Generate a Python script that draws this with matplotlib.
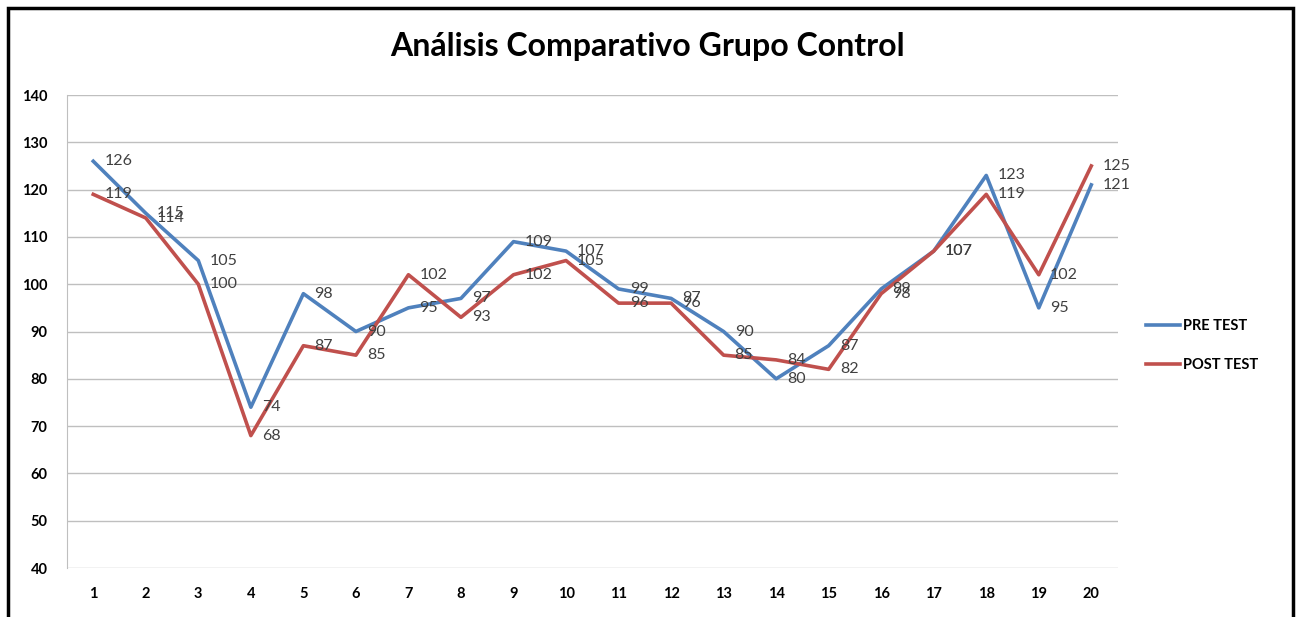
import matplotlib
matplotlib.use("Agg")
import matplotlib.pyplot as plt
from matplotlib.patches import Rectangle

plt.rcParams['font.family'] = ['Lato', 'DejaVu Sans']

categories = list(range(1, 21))
pre_test = [126, 115, 105, 74, 98, 90, 95, 97, 109, 107, 99, 97, 90, 80, 87, 99, 107, 123, 95, 121]
post_test = [119, 114, 100, 68, 87, 85, 102, 93, 102, 105, 96, 96, 85, 84, 82, 98, 107, 119, 102, 125]

blue = '#4F81BD'
red = '#C0504D'

fig = plt.figure(figsize=(13.01, 6.17), dpi=100)
ax = fig.add_axes([0.0515, 0.0794, 0.8075, 0.7666])

ax.plot(categories, pre_test, color=blue, lw=2.6, label='PRE TEST', zorder=3)
ax.plot(categories, post_test, color=red, lw=2.6, label='POST TEST', zorder=3)

# data labels to the right of each point
for x, v in zip(categories, pre_test):
    ax.annotate(str(v), (x, v), xytext=(8, 0), textcoords='offset points',
                va='center', ha='left', fontsize=11.5, color='#404040', zorder=4)
for x, v in zip(categories, post_test):
    ax.annotate(str(v), (x, v), xytext=(8, 0), textcoords='offset points',
                va='center', ha='left', fontsize=11.5, color='#404040', zorder=4)

ax.set_xlim(0.5, 20.5)
ax.set_ylim(40, 140)
ax.set_yticks(range(40, 141, 10))
ax.set_xticks(categories)
ax.grid(axis='y', color='#BFBFBF', lw=1)
ax.set_axisbelow(True)
for s in ['top', 'right', 'bottom']:
    ax.spines[s].set_visible(False)
ax.spines['left'].set_color('#BFBFBF')
ax.tick_params(axis='both', length=0, labelsize=10.5)
ax.tick_params(axis='x', pad=14)
ax.tick_params(axis='y', pad=14)
for lbl in ax.get_xticklabels() + ax.get_yticklabels():
    lbl.set_fontweight('bold')

fig.text(0.498, 0.924, 'Análisis Comparativo Grupo Control', ha='center', va='center',
         fontsize=23, fontweight='bold')

ax.legend(loc='center left', bbox_to_anchor=(1.015, 0.47), frameon=False,
          handlelength=2.3, handletextpad=0.2, labelspacing=1.7,
          prop={'weight': 'bold', 'size': 10.5})

fig.patches.append(Rectangle((0.006, -0.02), 0.988, 1.007, transform=fig.transFigure,
                             fill=False, edgecolor='black', lw=2.5))

fig.savefig('out.png', dpi=100)
